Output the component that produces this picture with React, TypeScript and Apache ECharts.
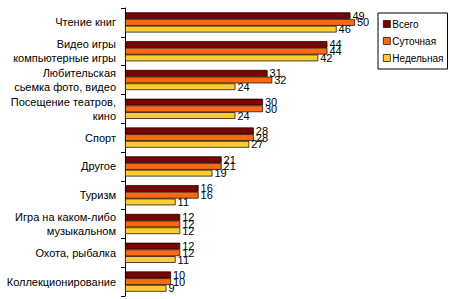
import React, { useEffect, useRef } from "react";
import * as echarts from "echarts";

const categories = [
  "Чтение книг",
  "Видео игры\nкомпьютерные игры",
  "Любительская\nсьемка фото, видео",
  "Посещение театров,\nкино",
  "Спорт",
  "Другое",
  "Туризм",
  "Игра на каком-либо\nмузыкальном",
  "Охота, рыбалка",
  "Коллекционирование",
];
const seriesNames = ["Всего", "Суточная", "Недельная"];
const total = [49, 44, 31, 30, 28, 21, 16, 12, 12, 10];
const daily = [50, 44, 32, 30, 28, 21, 16, 12, 12, 10];
const weekly = [46, 42, 24, 24, 27, 19, 11, 12, 11, 9];
const colors = ["#7b0000", "#ff6a10", "#ffcc33"];

export default function App() {
  const ref = useRef<HTMLDivElement>(null);
  useEffect(() => {
    if (!ref.current) return;
    const chart = echarts.init(ref.current, null, { renderer: "svg" });
    const font = "Liberation Sans, Arial, sans-serif";
    const mk = (name: string, data: number[], color: string) => ({
      name,
      type: "bar",
      data,
      barGap: "0%",
      barCategoryGap: "30%",
      itemStyle: { color, borderColor: "#000", borderWidth: 0.7 },
      label: {
        show: true,
        position: "right",
        distance: 2,
        color: "#000",
        fontSize: 11,
        fontFamily: font,
      },
    });
    chart.setOption({
      animation: false,
      backgroundColor: "#fff",
      grid: { left: 125, top: 8, width: 276, height: 288, containLabel: false },
      legend: {
        orient: "vertical",
        left: 378,
        top: 13,
        itemWidth: 7,
        itemHeight: 7,
        itemGap: 7,
        padding: [6, 4, 6, 5],
        borderColor: "#000",
        borderWidth: 1,
        icon: "rect",
        textStyle: {
          fontSize: 10,
          fontFamily: font,
          color: "#000",
          padding: [0, 0, 0, -3],
          lineHeight: 10,
        },
        itemStyle: { borderColor: "#000", borderWidth: 0.7 },
        data: seriesNames,
      },
      xAxis: {
        type: "value",
        min: 0,
        max: 60,
        show: false,
      },
      yAxis: {
        type: "category",
        data: categories,
        inverse: true,
        axisLine: { lineStyle: { color: "#000", width: 1 } },
        axisTick: { show: true, length: 4, inside: false, lineStyle: { color: "#000" } },
        axisLabel: {
          fontSize: 11,
          fontFamily: font,
          color: "#000",
          margin: 9,
          lineHeight: 14,
          interval: 0,
        },
      },
      series: [
        mk(seriesNames[0], total, colors[0]),
        mk(seriesNames[1], daily, colors[1]),
        mk(seriesNames[2], weekly, colors[2]),
      ],
    });
    return () => chart.dispose();
  }, []);
  return (
    <div
      ref={ref}
      style={{ position: "fixed", left: 0, top: 0, width: 450, height: 299 }}
    />
  );
}
